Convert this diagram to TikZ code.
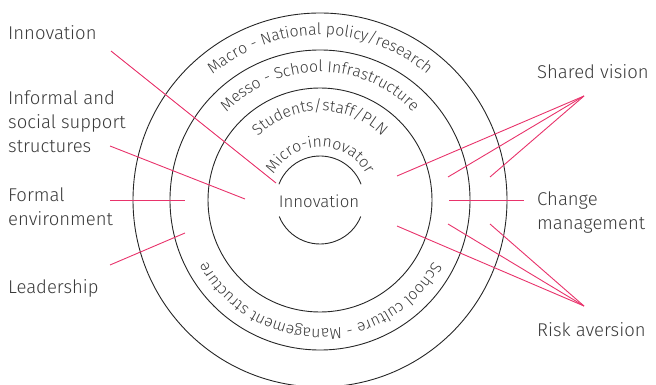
\documentclass[tikz,border=0pt]{standalone}
\usepackage{fontspec}
\setmainfont{Fira Sans Light}
\usetikzlibrary{decorations.text}

\definecolor{linkred}{HTML}{E8336B}
\definecolor{inkgrey}{HTML}{3A3A3A}
\newcommand{\tagfont}{\fontsize{18.5}{24}\selectfont}
\newcommand{\ringfont}{\fontsize{15.8}{20}\selectfont}

\tikzset{
	ring/.style={draw=black!85, line width=0.9pt},
	link/.style={draw=linkred, line width=0.9pt},
	tag/.style={anchor=north west, inner sep=0pt, align=left, font=\tagfont, text=inkgrey},
	ringtext/.style={decorate, decoration={text along path, text align=center, text color=inkgrey, text={|\ringfont|#1}}},
}

\begin{document}
\begin{tikzpicture}[x=1pt,y=1pt,yscale=-1]
	\useasboundingbox (0,0) rectangle (656,385);
	\coordinate (c) at (320,200);
	
	%Rings
	\draw [ring] (c) circle [radius=187];
	\draw [ring] (c) circle [radius=150];
	\draw [ring] (c) circle [radius=112];
	%Inner ring, open round the centre word
	\draw [ring] (c) ++(-21:44) arc [start angle=-21, end angle=-159, radius=44];
	\draw [ring] (c) ++(22:44) arc [start angle=22, end angle=158, radius=44];
	
	%Ring texts (y turned up again for the text)
	\begin{scope}[shift={(c)},yscale=-1]
		\path [ringtext={Macro - National policy/research}] (165:165) arc [start angle=165, end angle=15, radius=165];
		\path [ringtext={Messo - School Infrastructure}] (170:128) arc [start angle=170, end angle=10, radius=128];
		\path [ringtext={Students/staff/PLN}] (170:89) arc [start angle=170, end angle=10, radius=89];
		\path [ringtext={Micro-innovator}] (175:53) arc [start angle=175, end angle=5, radius=53];
		\path [ringtext={School culture - Management structure}] (-5:129) arc [start angle=-5, end angle=-175, radius=129];
	\end{scope}
	
	% Text Node
	\node [tag, font=\fontsize{16.8}{20}\selectfont, anchor=center] (core) at (319,201) {Innovation};
	
	% Left tags
	\node [tag] (innovation) at (8,25) {Innovation};
	\node [tag] (informal) at (8,91) {Informal and\\social support\\structures};
	\node [tag] (formal) at (8,188) {Formal\\environment};
	\node [tag] (leadership) at (8,279) {Leadership};
	% Right tags
	\node [tag] (vision) at (537,64) {Shared vision};
	\node [tag] (change) at (537,192) {Change\\management};
	\node [tag] (risk) at (537,322) {Risk aversion};
	
	%Line ends
	\coordinate (innoA) at (111,51);
	\coordinate (innoB) at (276,183);
	\coordinate (infoA) at (110,146);
	\coordinate (infoB) at (245,199);
	\coordinate (formA) at (110,200);
	\coordinate (formB) at (185,200);
	\coordinate (leadA) at (110,265);
	\coordinate (leadB) at (185,233);
	\coordinate (visA) at (584,96);
	\coordinate (visB) at (397,176);
	\coordinate (visC) at (448,177);
	\coordinate (visD) at (490,177);
	\coordinate (chA) at (449,200);
	\coordinate (chB) at (524,200);
	\coordinate (riskA) at (584,306);
	\coordinate (riskB) at (397,226);
	\coordinate (riskC) at (448,224);
	\coordinate (riskD) at (490,224);
	
	%Straight Lines
	\draw [link] (innoA) -- (innoB);
	\draw [link] (infoA) -- (infoB);
	\draw [link] (formA) -- (formB);
	\draw [link] (leadA) -- (leadB);
	%Straight Lines
	\draw [link] (visA) -- (visB);
	\draw [link] (visA) -- (visC);
	\draw [link] (visA) -- (visD);
	\draw [link] (chA) -- (chB);
	\draw [link] (riskA) -- (riskB);
	\draw [link] (riskA) -- (riskC);
	\draw [link] (riskA) -- (riskD);
	
\end{tikzpicture}
\end{document}
